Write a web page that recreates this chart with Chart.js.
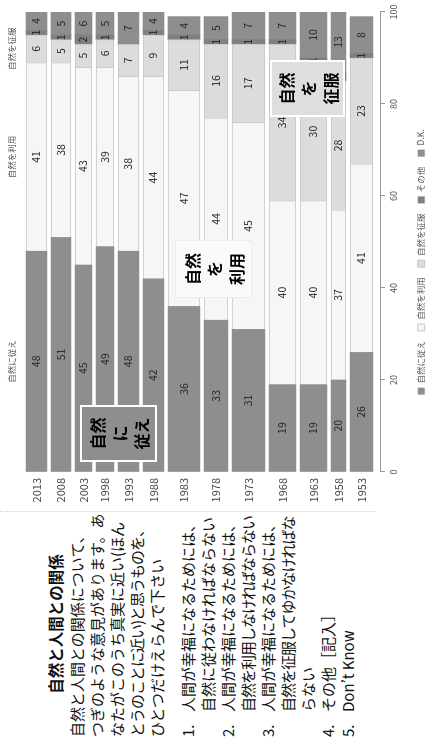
<!DOCTYPE html>
<html lang="ja">
<head>
<meta charset="utf-8">
<script src="https://cdn.jsdelivr.net/npm/chart.js@4/dist/chart.umd.min.js"></script>
<style>
  html, body { margin: 0; padding: 0; background: #fff; overflow: hidden; }
  body { width: 427px; height: 744px; position: relative; }
  /* the page is laid out landscape and turned a quarter turn */
  #page {
    position: absolute; left: 0; top: 0; width: 744px; height: 427px; overflow: hidden;
    transform-origin: 0 0; transform: translate(0, 744px) rotate(-90deg);
    font-family: "Noto Sans CJK JP", "Noto Sans", sans-serif; color: #111;
    background: #fff;
  }
  #chart { position: absolute; left: 0; top: 0; }
  #question { position: absolute; left: 7px; top: 45px; width: 226px; font-size: 15px; line-height: 20px; white-space: nowrap; }
  #question .qtitle { font-weight: bold; text-align: center; font-size: 15.5px; }
  #question .lead { margin-top: 2px; }
  #question .opts { margin-top: 11px; }
  #question .opt { position: relative; padding-left: 25px; }
  #question .opt .num { position: absolute; left: 0; top: 0; }
  #question .tight { letter-spacing: -1px; }
  .sep { position: absolute; left: 232px; top: 0; height: 376px; border-left: 1px dotted #d6d6d6; }
  .tag {
    position: absolute; box-sizing: border-box; display: flex; flex-direction: column;
    align-items: center; justify-content: center; font-weight: bold; font-size: 16px; line-height: 22px; color: #000;
  }
  .tag.follow { left: 282px; top: 80px; width: 57px; height: 77px; background: #8e8e8e; border: 2px solid #fff; }
  .tag.use { left: 446px; top: 175px; width: 58px; height: 77px; background: #fafafa; border: 1px solid #ececec; }
  .tag.conquer { left: 627px; top: 270px; width: 57px; height: 75px; background: #dedede; border: 2px solid #fff; }
</style>
</head>
<body>
<div id="page">
  <div id="question">
    <div class="qtitle">自然と人間との関係</div>
    <div class="lead">自然と人間との関係について、<br>つぎのような意見があります。あ<br>なたがこのうち真実に近い(ほん<br><span class="tight">とうのことに近い)と思うものを、</span><br>ひとつだけえらんで下さい</div>
    <div class="opts">
      <div class="opt"><span class="num">1.</span>人間が幸福になるためには、<br>自然に従わなければならない</div>
      <div class="opt"><span class="num">2.</span>人間が幸福になるためには、<br><span class="tight">自然を利用しなければならない</span></div>
      <div class="opt"><span class="num">3.</span>人間が幸福になるためには、<br><span class="tight">自然を征服してゆかなければな</span><br>らない</div>
      <div class="opt"><span class="num">4.</span>その他［記入］</div>
      <div class="opt"><span class="num">5.</span>Don’t Know</div>
    </div>
  </div>
  <div class="sep"></div>
  <canvas id="chart" width="744" height="427"></canvas>
  <div class="tag follow"><span>自然</span><span>に</span><span>従え</span></div>
  <div class="tag use"><span>自然</span><span>を</span><span>利用</span></div>
  <div class="tag conquer"><span>自然</span><span>を</span><span>征服</span></div>
</div>
<script>
// survey years, newest first
const years = ['2013', '2008', '2003', '1998', '1993', '1988', '1983', '1978', '1973', '1968', '1963', '1958', '1953'];
const seriesNames = ['自然に従え', '自然を利用', '自然を征服', 'その他', 'D.K.'];

// answer shares (%) per survey year
const followNature  = [48, 51, 45, 49, 48, 42, 36, 33, 31, 19, 19, 20, 26];
const useNature     = [41, 38, 43, 39, 38, 44, 47, 44, 45, 40, 40, 37, 41];
const conquerNature = [6, 5, 5, 6, 7, 9, 11, 16, 17, 34, 30, 28, 23];
const otherAnswer   = [1, 1, 2, 1, 0, 1, 1, 1, 1, 1, 1, 2, 1];
const dontKnow      = [4, 5, 6, 5, 7, 4, 4, 5, 7, 7, 10, 13, 8];

const valueTicks = [0, 20, 40, 60, 80, 100];

// ---- appearance ----
const FONT = '"Noto Sans CJK JP", "Noto Sans", sans-serif';
const seriesFill   = ['#8e8e8e', '#f6f6f6', '#dcdcdc', '#808080', '#8e8e8e'];
const seriesBorder = ['#8e8e8e', '#c6c6c6', '#c6c6c6', '#808080', '#8e8e8e'];
const seriesBorderWidth = [0, 1, 1, 0, 0];
// relative thickness of each year's bar, and the gap between bars
const barWeight = [21, 20, 17, 18, 21, 21, 32, 24, 33, 27, 27, 15, 23];
const BAR_GAP = 4;

const seriesValues = [followNature, useNature, conquerNature, otherAnswer, dontKnow];

// bar centres along the index axis, built from the weights
const rowCentre = [];
let run = 0;
barWeight.forEach(w => { rowCentre.push(run + w / 2); run += w + BAR_GAP; });
const rowSpan = run - BAR_GAP;
const Y_MIN = -4, Y_MAX = rowSpan + 7;

Chart.defaults.font.family = FONT;
Chart.defaults.color = '#555';

const datasets = [];
years.forEach((yr, r) => {
  seriesNames.forEach((name, s) => {
    datasets.push({
      label: name,
      data: [{ x: seriesValues[s][r], y: rowCentre[r] }],
      backgroundColor: seriesFill[s],
      borderColor: seriesBorder[s],
      borderWidth: seriesBorderWidth[s],
      barThickness: barWeight[r],
      stack: 'answers',
      row: r,
      series: s
    });
  });
});

// numbers written inside each segment
const segmentValues = {
  id: 'segmentValues',
  afterDatasetsDraw(chart) {
    const { ctx, chartArea } = chart;
    ctx.save();
    ctx.font = '10.5px ' + FONT;
    ctx.textAlign = 'center';
    ctx.textBaseline = 'middle';
    ctx.fillStyle = '#262626';
    chart.data.datasets.forEach((ds, i) => {
      const v = ds.data[0].x;
      if (!v) return;
      const bar = chart.getDatasetMeta(i).data[0];
      const right = Math.min(bar.x, chartArea.right);
      ctx.fillText(String(v), (right + bar.base) / 2, bar.y);
    });
    ctx.restore();
  }
};

// series names written above the first (2013) bar
const seriesCaptions = {
  id: 'seriesCaptions',
  afterDraw(chart) {
    const { ctx, chartArea } = chart;
    const xs = chart.scales.x;
    ctx.save();
    ctx.font = '8.5px ' + FONT;
    ctx.textAlign = 'center';
    ctx.textBaseline = 'middle';
    ctx.fillStyle = '#555';
    let acc = 0;
    seriesNames.slice(0, 3).forEach((name, s) => {
      const v = seriesValues[s][0];
      ctx.fillText(name, xs.getPixelForValue(acc + v / 2), chartArea.top - 10);
      acc += v;
    });
    ctx.restore();
  }
};

const chart = new Chart(document.getElementById('chart'), {
  type: 'bar',
  data: { datasets },
  options: {
    indexAxis: 'y',
    responsive: false,
    animation: false,
    layout: { padding: { left: 232, right: 12, top: 22, bottom: 0 } },
    scales: {
      x: {
        type: 'linear', stacked: true, min: 0, max: 100,
        afterBuildTicks: axis => { axis.ticks = valueTicks.map(v => ({ value: v })); },
        afterFit: axis => { axis.height = 27; },
        grid: { drawOnChartArea: false, drawTicks: true, tickLength: 5, color: '#9a9a9a' },
        border: { display: true, color: '#9a9a9a' },
        ticks: { font: { size: 9 }, color: '#555', padding: 3 }
      },
      y: {
        type: 'linear', stacked: true, reverse: true, offset: false, min: Y_MIN, max: Y_MAX,
        afterBuildTicks: axis => { axis.ticks = rowCentre.map(v => ({ value: v })); },
        afterFit: axis => { axis.width = 40; },
        grid: { display: false, drawTicks: false, offset: false },
        border: { display: false },
        ticks: {
          autoSkip: false, padding: 6, font: { size: 11 }, color: '#444',
          callback: (v, i) => years[i]
        }
      }
    },
    plugins: {
      legend: {
        position: 'bottom',
        maxHeight: 20,
        labels: {
          filter: item => item.datasetIndex < seriesNames.length,
          boxWidth: 7, boxHeight: 7, padding: 10, color: '#555',
          font: { size: 8.5 }
        }
      },
      tooltip: { enabled: false }
    }
  },
  plugins: [segmentValues, seriesCaptions]
});

// turn the bar weights into pixel thickness now that the plot height is known
const ppu = chart.scales.y.height / (Y_MAX - Y_MIN);
chart.data.datasets.forEach(ds => { ds.barThickness = barWeight[ds.row] * ppu; });
chart.update();
</script>
</body>
</html>
